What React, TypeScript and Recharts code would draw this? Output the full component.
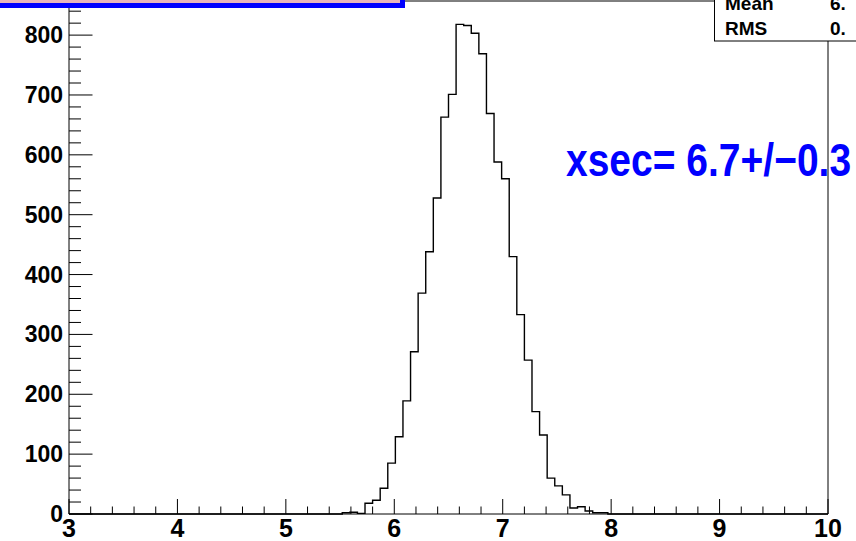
import { Line, LineChart, ReferenceLine, XAxis, YAxis } from 'recharts'

// histogram: 100 bins from 3 to 10, only bins 36..70 are filled
const binLow = 3
const binHigh = 10
const binWidth = 0.07
const firstBin = 36
const counts = [
  2, 3, 1, 18, 23, 43, 85, 129, 189, 271, 369, 438, 528, 663, 701, 818, 816,
  803, 769, 669, 588, 560, 430, 333, 257, 171, 132, 60, 47, 32, 10, 12, 5, 2, 2,
]

const xMajorTicks = [3, 4, 5, 6, 7, 8, 9, 10]
const yMajorTicks = [0, 100, 200, 300, 400, 500, 600, 700, 800]
const yMax = 857
const xMinorDiv = 5
const yMinorDiv = 5

const statsLabels = ['Mean', 'RMS']
const statsValues = ['6.', '0.']
const fitText = 'xsec= 6.7+/\u22120.3'

const FONT = '"Liberation Sans", Arial, Helvetica, sans-serif'

const data = [
  { x: binLow, y: 0 },
  ...counts.map((c, i) => ({ x: binLow + (firstBin + i) * binWidth, y: c })),
  { x: binLow + (firstBin + counts.length) * binWidth, y: 0 },
  { x: binHigh, y: 0 },
]

const xTicks: number[] = []
xMajorTicks.forEach((m, i) => {
  if (i === xMajorTicks.length - 1) {
    xTicks.push(m)
    return
  }
  const step = (xMajorTicks[i + 1] - m) / xMinorDiv
  for (let k = 0; k < xMinorDiv; k++) xTicks.push(Math.round((m + k * step) * 100) / 100)
})

const yStep = (yMajorTicks[1] - yMajorTicks[0]) / yMinorDiv
const yTicks: number[] = []
for (let v = 0; v <= yMax; v += yStep) yTicks.push(v)

const isMajorX = (v: number) => Math.abs(v - Math.round(v)) < 1e-6
const isMajorY = (v: number) => yMajorTicks.includes(v)

const XTick = ({ x, y, payload }: any) => {
  const v = payload.value
  const major = isMajorX(v)
  return (
    <g>
      <line x1={x} x2={x} y1={y} y2={y - (major ? 15 : 7.5)} stroke="#000" />
      {major && (
        <text x={x} y={y + 23} textAnchor="middle" fontFamily={FONT} fontWeight="bold" fontSize={25} fill="#000">
          {v}
        </text>
      )}
    </g>
  )
}

const YTick = ({ x, y, payload }: any) => {
  const v = payload.value
  const major = isMajorY(v)
  return (
    <g>
      <line x1={x} x2={x + (major ? 23.5 : 12)} y1={y} y2={y} stroke="#000" />
      {major && (
        <text x={x - 6} y={y} textAnchor="end" dominantBaseline="central" fontFamily={FONT} fontWeight="bold" fontSize={23} fill="#000">
          {v}
        </text>
      )}
    </g>
  )
}

export default function App() {
  return (
    <div style={{ position: 'absolute', left: 0, top: 0, width: 856, height: 541, background: '#fff' }}>
      <LineChart width={856} height={541} data={data} margin={{ top: 1, right: 28, left: 0, bottom: 0 }}>
        <XAxis
          dataKey="x"
          type="number"
          domain={[binLow, binHigh]}
          ticks={xTicks}
          interval={0}
          height={27}
          tickSize={0}
          tickMargin={0}
          tickLine={false}
          axisLine={{ stroke: '#000' }}
          tick={<XTick />}
        />
        <YAxis
          type="number"
          domain={[0, yMax]}
          ticks={yTicks}
          interval={0}
          width={69}
          tickSize={0}
          tickMargin={0}
          tickLine={false}
          axisLine={{ stroke: '#000' }}
          tick={<YTick />}
        />
        <ReferenceLine x={binHigh} stroke="#000" />
        <ReferenceLine y={yMax} stroke="#000" />
        <Line
          dataKey="y"
          type="stepAfter"
          stroke="#000"
          strokeWidth={1.4}
          dot={false}
          activeDot={false}
          isAnimationActive={false}
        />
      </LineChart>
      <svg
        width={856}
        height={541}
        style={{ position: 'absolute', left: 0, top: 0, pointerEvents: 'none' }}
      >
        {/* cut-off title box */}
        <rect x={-10} y={-20} width={412.5} height={25.5} fill="#e8b6bc" stroke="#0000ff" strokeWidth={5} />
        {/* cut-off stats box */}
        <rect x={714.5} y={-10} width={200} height={51} fill="#fff" stroke="#000" strokeWidth={1} />
        {statsLabels.map((s, i) => (
          <g key={s}>
            <text x={725} y={10 + i * 25} fontFamily={FONT} fontWeight="bold" fontSize={19} fill="#000">
              {s}
            </text>
            <text x={830} y={10 + i * 25} fontFamily={FONT} fontWeight="bold" fontSize={19} fill="#000">
              {statsValues[i]}
            </text>
          </g>
        ))}
        <text
          transform="translate(566 176) scale(1 1.17)"
          x={0}
          y={0}
          fontFamily={FONT}
          fontWeight="bold"
          fontSize={39}
          fill="#0000ff"
        >
          {fitText}
        </text>
      </svg>
    </div>
  )
}
